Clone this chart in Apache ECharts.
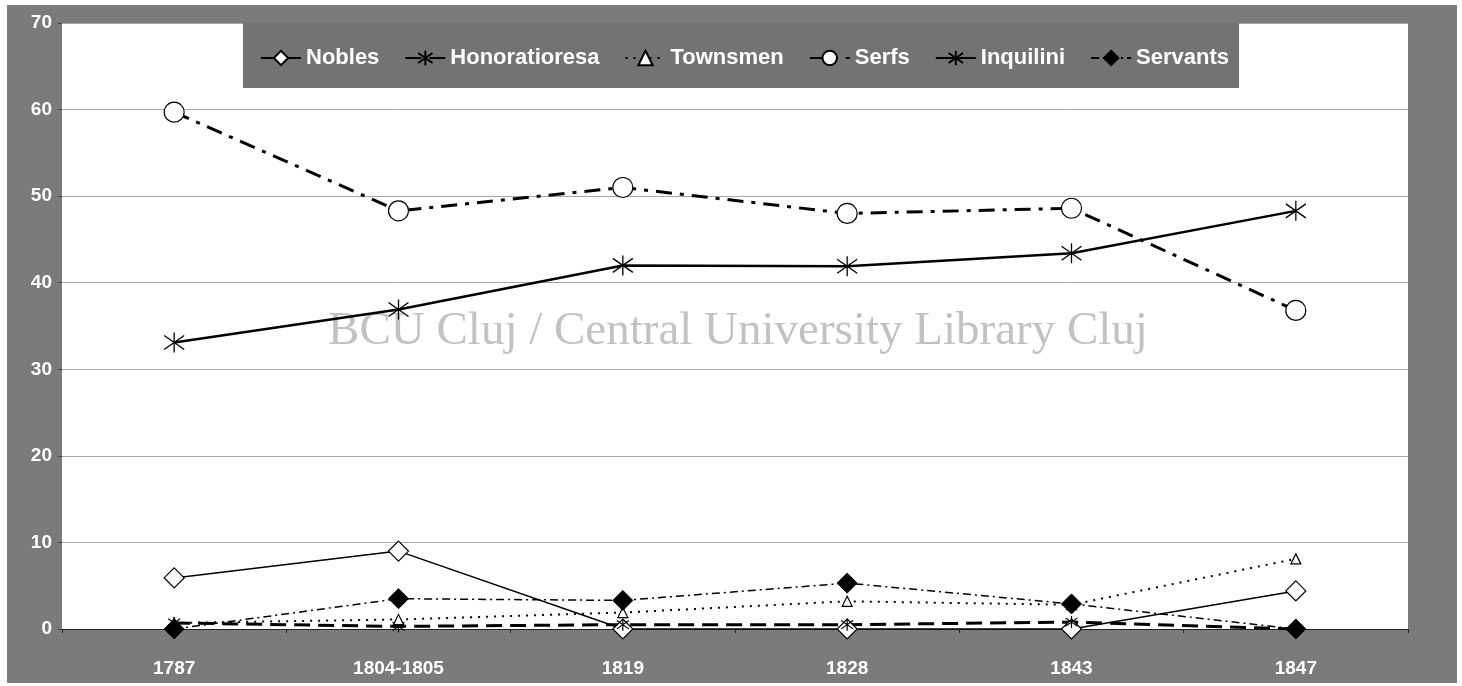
<!DOCTYPE html>
<html><head><meta charset="utf-8">
<script src="https://cdn.jsdelivr.net/npm/echarts@6/dist/echarts.min.js"></script>
<style>html,body{margin:0;padding:0;background:#fff;}#c{position:absolute;left:7px;top:5px;width:1450px;height:678px;}</style>
</head><body><div id="c"></div>
<script>
const categories = ['1787','1804-1805','1819','1828','1843','1847'];
const nobles = [5.9, 9.0, 0, 0, 0, 4.4];
const honoratioresa = [0.7, 0.3, 0.5, 0.5, 0.8, 0];
const townsmen = [0.7, 1.1, 1.9, 3.2, 2.8, 8.1];
const serfs = [59.7, 48.3, 51.0, 48.0, 48.6, 36.8];
const inquilini = [33.1, 36.9, 42.0, 41.9, 43.4, 48.3];
const servants = [0, 3.5, 3.3, 5.3, 2.9, 0];
const yTicks = {min:0, max:70, interval:10};

const asterisk = 'path://M10,0L10,20M2,3L18,17M2,17L18,3';
const chart = echarts.init(document.getElementById('c'));
function ser(name, data, symbol, size, itemStyle, lineStyle){
  return {name, type:'line', data, symbol, symbolSize:size, itemStyle, lineStyle, showAllSymbol:true, emphasis:{disabled:true}, z:3};
}
const lblFont = 'Liberation Sans, Arial';
chart.setOption({
  animation:false,
  backgroundColor:'#7b7b7b',
  grid:{left:55, right:49, top:18, bottom:54, show:true, backgroundColor:'#ffffff', borderWidth:0},
  xAxis:{type:'category', data:categories, boundaryGap:true,
    axisLine:{lineStyle:{color:'#222', width:1}}, axisTick:{show:true, length:4, lineStyle:{color:'#222'}},
    axisLabel:{color:'#fff', fontWeight:'bold', fontSize:19, fontFamily:lblFont, margin:30}},
  yAxis:{type:'value', min:yTicks.min, max:yTicks.max, interval:yTicks.interval,
    axisLine:{show:false}, axisTick:{show:true, length:4, lineStyle:{color:'#444'}},
    splitLine:{lineStyle:{color:'#a8a8a8', width:1}},
    axisLabel:{color:'#fff', fontWeight:'bold', fontSize:19, fontFamily:lblFont, margin:10}},
  legend:{left:248, top:37, itemWidth:40, itemHeight:18, itemGap:25,
    textStyle:{color:'#fff', fontWeight:'bold', fontSize:22, fontFamily:lblFont},
    data:['Nobles','Honoratioresa','Townsmen','Serfs','Inquilini','Servants']},
  graphic:[
    {type:'rect', shape:{x:236, y:18, width:996, height:65}, style:{fill:'#737373'}, z:1, silent:true},
    {type:'text', z:2, silent:true,
     style:{text:'BCU Cluj / Central University Library Cluj', x:731, y:327, fill:'#c2c2c2',
       font:'47px "Liberation Serif", "Times New Roman", serif', textAlign:'center', textVerticalAlign:'middle'}}
  ],
  series:[
    ser('Nobles', nobles, 'diamond', 20, {color:'#fff', borderColor:'#000', borderWidth:1.2}, {color:'#000', width:1.5, type:'solid'}),
    ser('Honoratioresa', honoratioresa, asterisk, 12, {color:'transparent', borderColor:'#000', borderWidth:1.2}, {color:'#000', width:3, type:[16,8]}),
    ser('Townsmen', townsmen, 'triangle', 10, {color:'#fff', borderColor:'#000', borderWidth:1.2}, {color:'#000', width:2, type:[2,6]}),
    ser('Serfs', serfs, 'circle', 20, {color:'#fff', borderColor:'#000', borderWidth:1.2}, {color:'#000', width:3, type:[16,8,4,8]}),
    ser('Inquilini', inquilini, asterisk, 20, {color:'transparent', borderColor:'#000', borderWidth:1.3}, {color:'#000', width:2.5, type:'solid'}),
    ser('Servants', servants, 'diamond', 20, {color:'#000', borderColor:'#000', borderWidth:1}, {color:'#000', width:1.5, type:[8,4,2,4]})
  ]
});
</script></body></html>
